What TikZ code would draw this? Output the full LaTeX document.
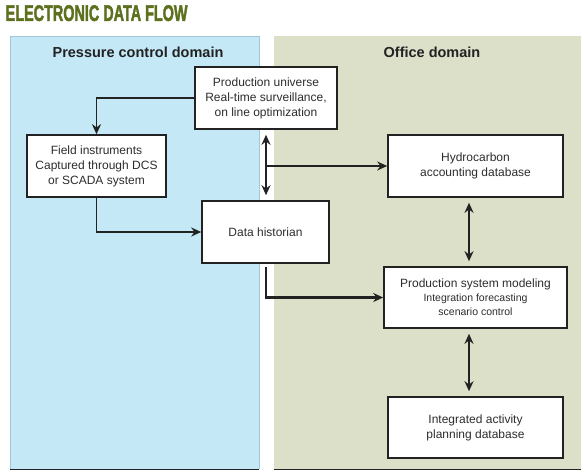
\documentclass[tikz,border=0pt]{standalone}
\usepackage{fontspec}
\setmainfont{Liberation Sans}
\newfontfamily\titlefont[FakeBold=2.5]{Liberation Sans Bold}
\usepackage{graphicx}
\usetikzlibrary{arrows.meta}
\definecolor{bluepanel}{RGB}{197,232,247}
\definecolor{blueedge}{RGB}{160,200,220}
\definecolor{greenpanel}{RGB}{221,224,200}
\definecolor{titlegreen}{RGB}{92,112,30}
\definecolor{linecol}{RGB}{34,34,34}
\definecolor{textcol}{RGB}{45,45,45}
\tikzset{
  boxnode/.style={draw=linecol, line width=1.6pt, fill=white, inner sep=0pt, align=center,
    text=textcol, font=\fontsize{12}{15}\selectfont},
  header/.style={inner sep=0pt, text=linecol, font=\fontsize{14.5}{16}\selectfont\bfseries},
  arr/.style={draw=linecol, line width=1.7pt, -{Stealth[length=10pt,width=9pt]}},
  dblarr/.style={draw=linecol, line width=1.7pt, {Stealth[length=10pt,width=9pt]}-{Stealth[length=10pt,width=9pt]}, shorten <=5pt, shorten >=5pt},
}
\begin{document}
\begin{tikzpicture}[x=1pt,y=-1pt]
\useasboundingbox (0,0) rectangle (581,471);
% panels
\fill[bluepanel] (10,36) rectangle (259,469);
\draw[blueedge, line width=0.6pt] (10,469) -- (10,36) -- (259,36) -- (259,469);
\fill[greenpanel] (274,36) rectangle (581,469);
\draw[linecol, line width=1pt] (10,469) -- (259,469);
\draw[linecol, line width=1pt] (274,469) -- (581,469);
% title
\node[anchor=north west, inner sep=0pt, text=titlegreen] (title) at (5.5,5)
  {\scalebox{0.64}[1]{\titlefont\fontsize{22.5}{22.5}\selectfont ELECTRONIC DATA FLOW}};
% headers
\node[header] (hleft) at (138,52) {Pressure control domain};
\node[header] (hright) at (432,52) {Office domain};
% boxes
\node[boxnode, minimum width=142pt, minimum height=62pt] (pu) at (266,98)
  {Production universe\\Real-time surveillance,\\on line optimization};
\node[boxnode, minimum width=139pt, minimum height=62pt] (fi) at (96.5,166)
  {Field instruments\\Captured through DCS\\or SCADA system};
\node[boxnode, minimum width=127pt, minimum height=62pt] (dh) at (265.5,232)
  {Data historian};
\node[boxnode, minimum width=175pt, minimum height=62pt] (hc) at (475.5,166)
  {Hydrocarbon\\accounting database};
\node[boxnode, minimum width=183pt, minimum height=61pt] (psm) at (475.5,297.5)
  {Production system modeling\\[-1pt]{\fontsize{10.5}{14}\selectfont Integration forecasting}\\[-1pt]{\fontsize{10.5}{14}\selectfont scenario control}};
\node[boxnode, minimum width=175pt, minimum height=61pt] (iap) at (475.5,427.5)
  {Integrated activity\\planning database};
% connectors
\draw[arr] (pu.west) -| (fi.north);
\draw[arr] (fi.south) |- (dh.west);
\draw[dblarr] (pu.south) -- (pu.south |- dh.north);
\coordinate (br) at (266,166);
\draw[arr] (br) -- (hc.west);
\draw[arr, line width=2.2pt, shorten <=3pt] (dh.south -| pu.south) |- (psm.west);
\draw[dblarr] ([xshift=-6.5pt]hc.south) -- ([xshift=-6.5pt]psm.north);
\draw[dblarr] ([xshift=-6.5pt]psm.south) -- ([xshift=-6.5pt]iap.north);
\end{tikzpicture}
\end{document}
